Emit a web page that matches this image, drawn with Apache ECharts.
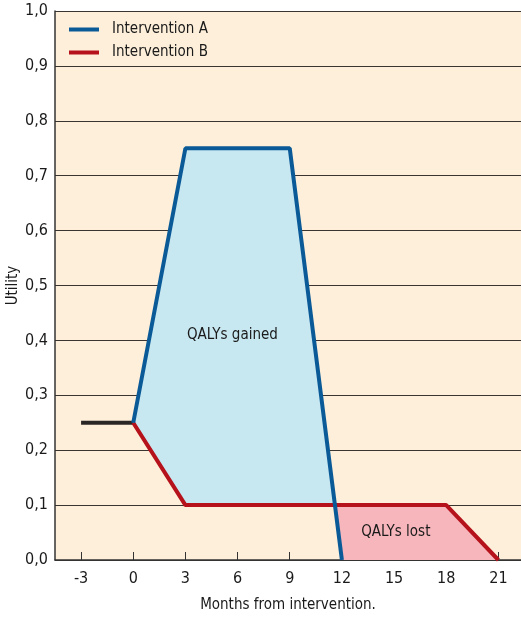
<!DOCTYPE html>
<html><head><meta charset="utf-8">
<script src="https://cdn.jsdelivr.net/npm/echarts@6/dist/echarts.min.js"></script>
<style>html,body{margin:0;padding:0;background:#fff}#c{width:521px;height:618px}</style>
</head><body><div id="c"></div>
<script>
const xTicks = [-3, 0, 3, 6, 9, 12, 15, 18, 21];
const baselineMonths = [-3, 0];
const baselineUtility = [0.25, 0.25];
const monthsA = [0, 3, 9, 12];
const utilityA = [0.25, 0.75, 0.75, 0];
const monthsB = [0, 3, 18, 21];
const utilityB = [0.25, 0.1, 0.1, 0];
const labelGained = {text: 'QALYs gained', month: 5.7, utility: 0.41};
const labelLost = {text: 'QALYs lost', month: 15.1, utility: 0.05};

const FONT = '"Liberation Sans Narrow","DejaVu Sans Condensed",sans-serif';
const pairs = (xs, ys) => xs.map((x, i) => [x, ys[i]]);
const A = pairs(monthsA, utilityA), B = pairs(monthsB, utilityB);

function intersect(p1, p2, p3, p4) {
  const d = (p1[0]-p2[0])*(p3[1]-p4[1]) - (p1[1]-p2[1])*(p3[0]-p4[0]);
  const t = ((p1[0]-p3[0])*(p3[1]-p4[1]) - (p1[1]-p3[1])*(p3[0]-p4[0])) / d;
  return [p1[0] + t*(p2[0]-p1[0]), p1[1] + t*(p2[1]-p1[1])];
}
const X = intersect(A[2], A[3], B[1], B[2]);
const gainedPoly = [A[0], A[1], A[2], X, B[1]];
const lostPoly = [X, B[2], B[3], A[3]];

function polySeries(poly, color) {
  return {
    type: 'custom', silent: true, z: 1,
    data: [0],
    renderItem: (params, api) => ({
      type: 'polygon',
      shape: {points: poly.map(p => api.coord(p))},
      style: {fill: color}
    })
  };
}

const chart = echarts.init(document.getElementById('c'));
chart.setOption({
  animation: false,
  backgroundColor: '#ffffff',
  textStyle: {fontFamily: FONT},
  grid: {left: 55, right: 0, top: 11, bottom: 58, backgroundColor: '#fdefd9', show: true, borderWidth: 0,
         containLabel: false, outerBoundsMode: 'none'},
  legend: {
    left: 64, top: 17, orient: 'vertical', itemGap: 8,
    itemWidth: 30, itemHeight: 4, icon: 'rect',
    textStyle: {fontFamily: FONT, fontSize: 15, color: '#1a1a1a', padding: [0, 0, 0, 8]},
    data: ['Intervention A', 'Intervention B']
  },
  xAxis: {
    type: 'value', min: -4.5, max: 22.3,
    name: 'Months from intervention.', nameLocation: 'middle', nameGap: 38,
    nameTextStyle: {fontFamily: FONT, fontSize: 15, color: '#1a1a1a'},
    axisLine: {show: true, onZero: false, lineStyle: {color: '#333', width: 1.5}},
    axisTick: {show: true, inside: true, length: 8, lineStyle: {color: '#333'}, customValues: xTicks},
    axisLabel: {fontFamily: FONT, fontSize: 16, color: '#1a1a1a', margin: 11, customValues: xTicks},
    splitLine: {show: false}
  },
  yAxis: {
    type: 'value', min: 0, max: 1, interval: 0.1,
    name: 'Utility', nameLocation: 'middle', nameGap: 34, nameRotate: 90, nameMoveOverlap: false,
    nameTextStyle: {fontFamily: FONT, fontSize: 15, color: '#1a1a1a'},
    axisLine: {show: true, onZero: false, lineStyle: {color: '#333', width: 1.5}},
    axisTick: {show: false},
    axisLabel: {fontFamily: FONT, fontSize: 16, color: '#1a1a1a', margin: 7,
      formatter: v => v.toFixed(1).replace('.', ',')},
    splitLine: {show: true, lineStyle: {color: '#3a3530', width: 1}}
  },
  series: [
    polySeries(gainedPoly, '#c7e7f1'),
    polySeries(lostPoly, '#f6b6bb'),
    {
      type: 'line', name: 'Baseline', data: pairs(baselineMonths, baselineUtility),
      symbol: 'none', z: 3, lineStyle: {color: '#2a2626', width: 4}
    },
    {
      type: 'line', name: 'Intervention B', data: B, color: '#b5121b',
      symbol: 'none', z: 3, lineStyle: {color: '#b5121b', width: 4}
    },
    {
      type: 'line', name: 'Intervention A', data: A, color: '#0b5a98',
      symbol: 'none', z: 4, lineStyle: {color: '#0b5a98', width: 4}
    },
    {
      type: 'scatter', symbolSize: 0, silent: true, z: 5,
      data: [
        {value: [labelGained.month, labelGained.utility], name: labelGained.text},
        {value: [labelLost.month, labelLost.utility], name: labelLost.text}
      ],
      label: {show: true, position: 'inside', formatter: p => p.name,
        fontFamily: FONT, fontSize: 15, color: '#1a1a1a', opacity: 1}
    }
  ]
});
</script></body></html>
